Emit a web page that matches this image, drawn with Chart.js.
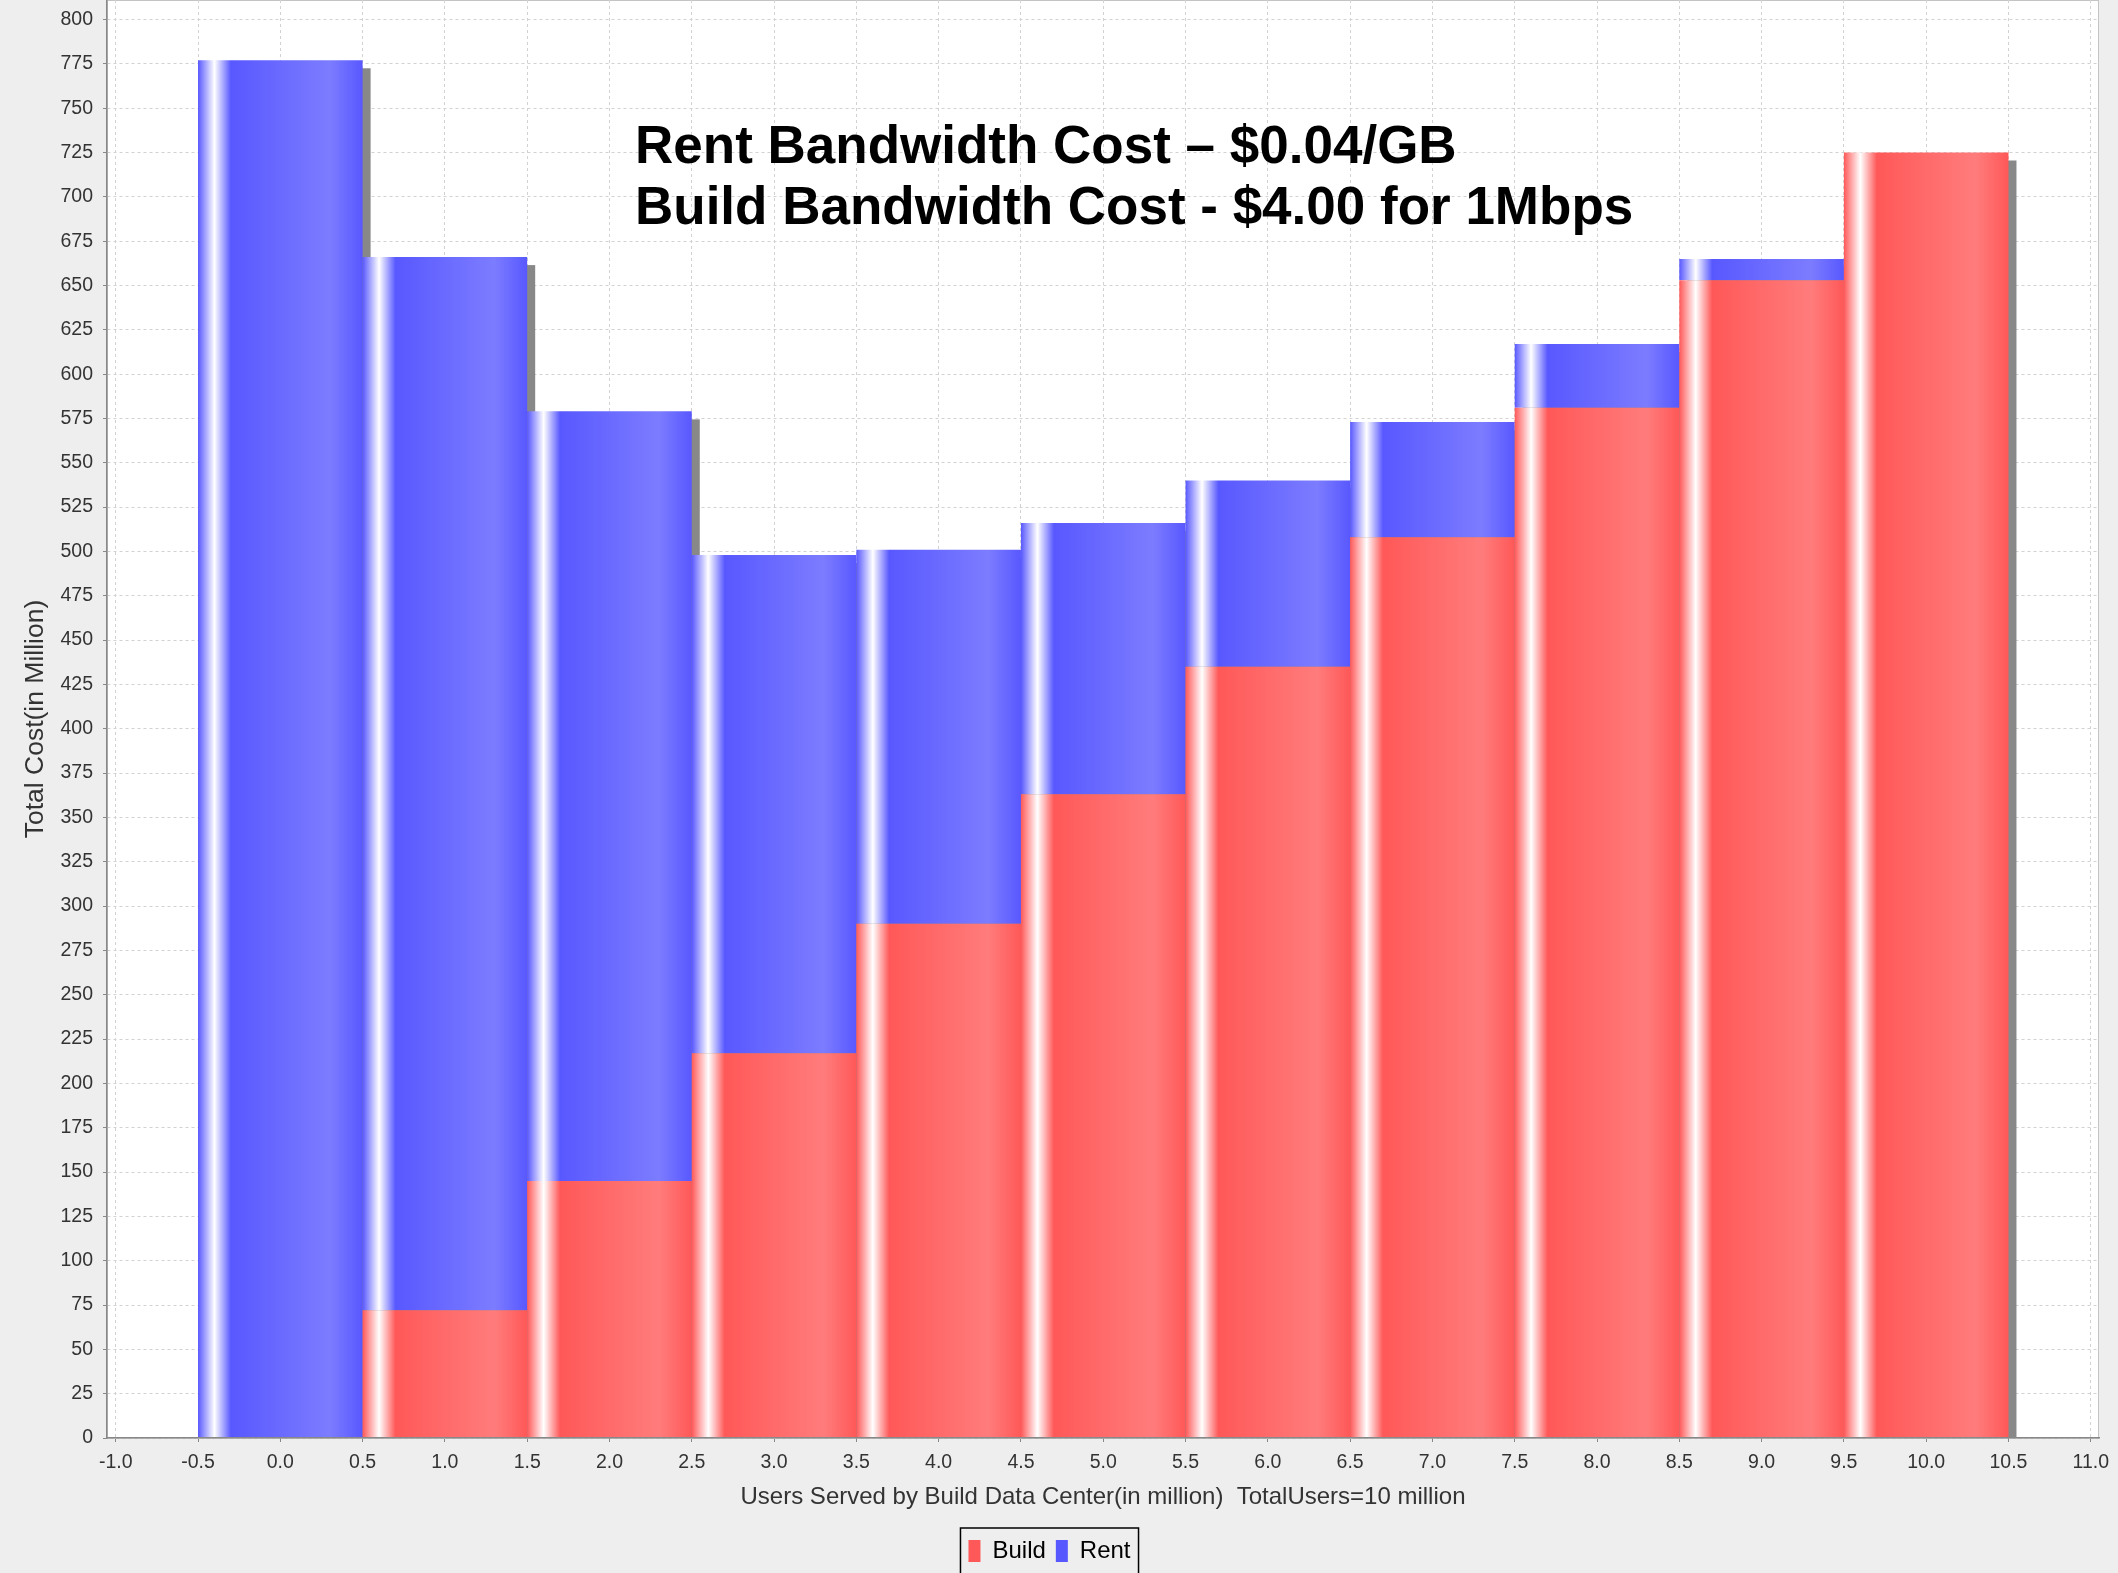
<!DOCTYPE html>
<html>
<head>
<meta charset="utf-8">
<script src="https://cdn.jsdelivr.net/npm/chart.js@4.4.0/dist/chart.umd.min.js"></script>
<style>
    html, body { margin: 0; padding: 0; background: #eeeeee; }
    #wrap { position: relative; width: 2118px; height: 1573px; overflow: hidden; }
    #note {
        position: absolute; left: 635px; top: 114px;
        font: bold 53px "Liberation Sans", Arial, sans-serif;
        line-height: 61px; color: #000; white-space: nowrap; pointer-events: none;
    }
</style>
</head>
<body>
<div id="wrap">
    <canvas id="costChart" width="2118" height="1573"></canvas>
    <div id="note">Rent Bandwidth Cost – $0.04/GB<br>Build Bandwidth Cost - $4.00 for 1Mbps</div>
</div>
<script>
// users served by the build data center (million)
var usersServed = [0, 1, 2, 3, 4, 5, 6, 7, 8, 9, 10];
// cost in million
var buildCost = [0, 72, 145, 217, 290, 363, 435, 508, 581, 653, 725];
var rentCost = [777, 594, 434, 281, 211, 153, 105, 65, 36, 12, 0];

var xTicks = [-1.0, -0.5, 0.0, 0.5, 1.0, 1.5, 2.0, 2.5, 3.0, 3.5, 4.0, 4.5, 5.0, 5.5,
    6.0, 6.5, 7.0, 7.5, 8.0, 8.5, 9.0, 9.5, 10.0, 10.5, 11.0];
var yTicks = [0, 25, 50, 75, 100, 125, 150, 175, 200, 225, 250, 275, 300, 325, 350, 375,
    400, 425, 450, 475, 500, 525, 550, 575, 600, 625, 650, 675, 700, 725, 750, 775, 800];

var RED = '#ff5858', RED_LIGHT = '#ff7c7c';
var BLUE = '#5858ff', BLUE_LIGHT = '#7c7cff';
var FONT = '"Liberation Sans", Arial, sans-serif';

// jfreechart style gradient across each bar
function barFill(base, light) {
    return function (c) {
        if (c.type !== 'data') return base;
        var xs = c.chart.scales.x;
        if (!xs) return base;
        var v = usersServed[c.dataIndex];
        var l = xs.getPixelForValue(v - 0.5);
        var r = xs.getPixelForValue(v + 0.5);
        var g = c.chart.ctx.createLinearGradient(l, 0, r, 0);
        g.addColorStop(0, base);
        g.addColorStop(0.1, '#ffffff');
        g.addColorStop(0.2, base);
        g.addColorStop(0.8, light);
        g.addColorStop(1, base);
        return g;
    };
}

var plotBackground = {
    id: 'plotBackground',
    beforeDraw: function (chart) {
        var ctx = chart.ctx, a = chart.chartArea;
        ctx.save();
        ctx.fillStyle = '#eeeeee';
        ctx.fillRect(0, 0, chart.width, chart.height);
        ctx.fillStyle = '#ffffff';
        ctx.fillRect(a.left, a.top, a.right - a.left, a.bottom - a.top);
        ctx.strokeStyle = '#c4c4c4';
        ctx.lineWidth = 1;
        ctx.strokeRect(a.left + 0.5, a.top + 0.5, a.right - a.left - 1, a.bottom - a.top);
        ctx.restore();
    }
};

// gray drop shadow behind each stacked bar
var barShadow = {
    id: 'barShadow',
    beforeDatasetsDraw: function (chart) {
        var ctx = chart.ctx, a = chart.chartArea;
        var xs = chart.scales.x, ys = chart.scales.y;
        ctx.save();
        ctx.beginPath();
        ctx.rect(a.left, a.top, a.right - a.left, a.bottom - a.top);
        ctx.clip();
        ctx.fillStyle = '#888888';
        usersServed.forEach(function (v, i) {
            var l = xs.getPixelForValue(v - 0.5) + 8;
            var r = xs.getPixelForValue(v + 0.5) + 8;
            var t = ys.getPixelForValue(buildCost[i] + rentCost[i]) + 8;
            ctx.fillRect(l, t, r - l, ys.getPixelForValue(0) - t);
        });
        ctx.restore();
    }
};

var legendBorder = {
    id: 'legendBorder',
    afterDraw: function (chart) {
        var lg = chart.legend, hb = lg.legendHitBoxes;
        if (!hb || !hb.length) return;
        var last = hb[hb.length - 1];
        var l = hb[0].left - 8, r = last.left + last.width + 8;
        var ctx = chart.ctx;
        ctx.save();
        ctx.strokeStyle = '#000000';
        ctx.lineWidth = 1.5;
        ctx.strokeRect(l, lg.top - 1, r - l, chart.height);
        ctx.restore();
    }
};

document.addEventListener('DOMContentLoaded', function () {
    var ctx = document.getElementById('costChart').getContext('2d');
    // the 0.5 tick spacing sets the bar ruler, so 2.0 makes each bar one full unit wide
    var barOpts = { borderWidth: 0, categoryPercentage: 2.0, barPercentage: 1.0 };
    new Chart(ctx, {
        type: 'bar',
        data: {
            datasets: [Object.assign({
                label: 'Build',
                data: buildCost.map(function (v, i) { return { x: usersServed[i], y: v }; }),
                backgroundColor: barFill(RED, RED_LIGHT)
            }, barOpts), Object.assign({
                label: 'Rent',
                data: rentCost.map(function (v, i) { return { x: usersServed[i], y: v }; }),
                backgroundColor: barFill(BLUE, BLUE_LIGHT)
            }, barOpts)]
        },
        options: {
            responsive: false,
            animation: false,
            devicePixelRatio: 1,
            layout: { padding: { top: 0, left: 0, right: 19, bottom: 0 } },
            plugins: {
                tooltip: { enabled: false },
                legend: {
                    position: 'bottom',
                    labels: {
                        color: '#000',
                        font: { family: FONT, size: 24 },
                        boxWidth: 12,
                        boxHeight: 22,
                        padding: 10,
                        generateLabels: function () {
                            return [
                                { text: 'Build', fillStyle: RED, strokeStyle: RED, lineWidth: 0, hidden: false, datasetIndex: 0 },
                                { text: 'Rent', fillStyle: BLUE, strokeStyle: BLUE, lineWidth: 0, hidden: false, datasetIndex: 1 }
                            ];
                        }
                    }
                }
            },
            scales: {
                x: {
                    type: 'linear',
                    stacked: true,
                    offset: false,
                    min: -1.053,
                    max: 11.05,
                    afterBuildTicks: function (axis) {
                        axis.ticks = xTicks.map(function (v) { return { value: v }; });
                    },
                    afterFit: function (axis) {
                        axis.height = 91;
                        axis.paddingLeft = 0;
                        axis.paddingRight = 0;
                    },
                    ticks: {
                        autoSkip: false,
                        maxRotation: 0,
                        padding: 9,
                        color: '#333',
                        font: { family: FONT, size: 19.5 },
                        callback: function (v) { return Number(v).toFixed(1); }
                    },
                    grid: { offset: false, color: '#d2d2d2', tickColor: '#888888', tickLength: 4 },
                    border: { color: '#888888', width: 1.5, dash: [3, 3], z: 1 },
                    title: {
                        display: true,
                        text: 'Users Served by Build Data Center(in million)  TotalUsers=10 million',
                        color: '#333',
                        font: { family: FONT, size: 24 },
                        padding: { top: 0, bottom: 17 }
                    }
                },
                y: {
                    stacked: true,
                    min: 0,
                    max: 811,
                    afterBuildTicks: function (axis) {
                        axis.ticks = yTicks.map(function (v) { return { value: v }; });
                    },
                    afterFit: function (axis) {
                        axis.width = 107;
                        axis.paddingTop = 0;
                        axis.paddingBottom = 0;
                    },
                    ticks: {
                        autoSkip: false,
                        padding: 10,
                        color: '#333',
                        font: { family: FONT, size: 19.5 }
                    },
                    grid: { color: '#d2d2d2', tickColor: '#888888', tickLength: 4 },
                    border: { color: '#888888', width: 1.5, dash: [3, 3], z: 1 },
                    title: {
                        display: true,
                        text: 'Total Cost(in Million)',
                        color: '#333',
                        font: { family: FONT, size: 26.5 },
                        padding: { top: 20, bottom: 0 }
                    }
                }
            }
        },
        plugins: [plotBackground, barShadow, legendBorder]
    });
});
</script>
</body>
</html>
